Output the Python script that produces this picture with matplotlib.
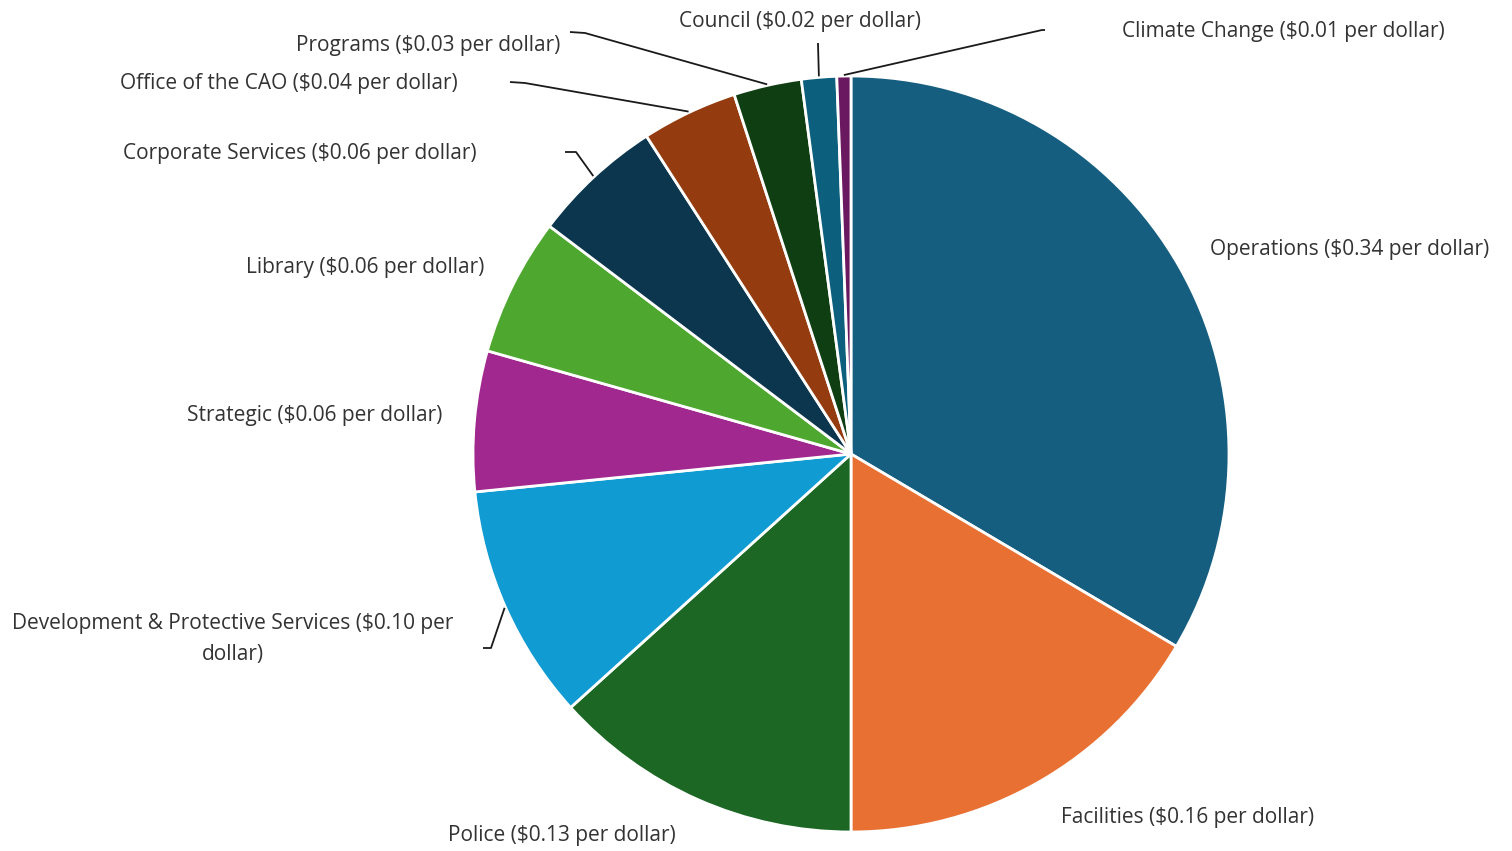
import matplotlib
matplotlib.use("Agg")
import matplotlib.pyplot as plt
import numpy as np

categories = ["Operations", "Facilities", "Police", "Development & Protective Services",
              "Strategic", "Library", "Corporate Services", "Office of the CAO",
              "Programs", "Council", "Climate Change"]
shares = [33.5, 16.5, 13.3, 10.1, 6.0, 5.9, 5.6, 4.1, 2.9, 1.5, 0.6]
per_dollar = ["$0.34", "$0.16", "$0.13", "$0.10", "$0.06", "$0.06", "$0.06", "$0.04",
              "$0.03", "$0.02", "$0.01"]
colors = ["#165e80", "#e87033", "#1b6723", "#109bd2", "#a0288f", "#4ea72e",
          "#0c364d", "#943c0f", "#0f3e12", "#0c607d", "#6a1860"]

W, H = 1512, 851
fig = plt.figure(figsize=(W / 100, H / 100), dpi=100)
ax = fig.add_axes([0, 0, 1, 1])

cx, cy, R = 851, H - 454, 378
wedges, _ = ax.pie(shares, colors=colors, startangle=90, counterclock=False,
                   center=(cx, cy), radius=R, frame=True,
                   wedgeprops=dict(edgecolor="white", linewidth=2))
ax.set_xlim(0, W)
ax.set_ylim(0, H)
ax.set_aspect("equal")
ax.axis("off")

# label layout (pixel coords from top-left): x, y, ha
label_pos = [(1210, 249, "left"), (1061, 817, "left"), (562, 836, "center"),
             (233, 639, "center"), (442, 416, "right"), (484, 267, "right"),
             (477, 153, "right"), (458, 83, "right"), (560, 45, "right"),
             (800, 22, "center"), (1122, 31, "left")]
# leader lines: text-side anchor and short elbow (pixel coords), by category index
leaders = {3: [(483, 648), (491, 648)],
           6: [(565, 152), (576, 152)],
           7: [(510, 82), (525, 83)],
           8: [(570, 32), (585, 33)],
           9: [(818, 43), (818, 44)],
           10: [(1045, 30), (1042, 30)]}

txt_color = "#333333"
font = "Open Sans"
for i, (cat, pdl) in enumerate(zip(categories, per_dollar)):
    x, y, ha = label_pos[i]
    if i == 3:
        s = f"{cat} ({pdl} per\ndollar)"
    else:
        s = f"{cat} ({pdl} per dollar)"
    ax.text(x, H - y, s, ha=ha, va="center", fontsize=15, color=txt_color,
            family=font, multialignment="center", linespacing=1.6)

for i, pts in leaders.items():
    w = wedges[i]
    mid = np.deg2rad((w.theta1 + w.theta2) / 2)
    ex, ey = cx + (R + 1) * np.cos(mid), cy + (R + 1) * np.sin(mid)
    xs = [p[0] for p in pts] + [ex]
    ys = [H - p[1] for p in pts] + [ey]
    ax.plot(xs, ys, color="#1a1a1a", lw=1.3, solid_capstyle="butt")

fig.savefig("out.png", dpi=100, facecolor="white")
